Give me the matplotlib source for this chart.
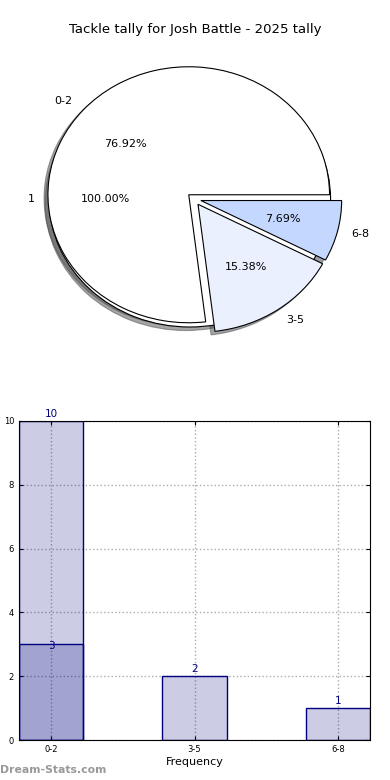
import numpy as np
import matplotlib
matplotlib.use("Agg")
import matplotlib.pyplot as plt

# Data
title = "Tackle tally for Josh Battle - 2025 tally"
tally_labels = ["0-2", "3-5", "6-8"]
tally_counts = [10, 2, 1]
tally_colors = ["#ffffff", "#eaf0fe", "#c4d8ff"]
other_labels = ["1"]
other_counts = [3]

fig = plt.figure(figsize=(3.9, 7.8), dpi=100)
fig.patch.set_facecolor("white")

fig.text(0.5, 1 - 30 / 780, title, ha="center", va="center", fontsize=9.5)

# Pie chart
ax1 = fig.add_axes([18 / 390, 421 / 780, 352 / 390, 320 / 780])
wp = {"edgecolor": "black", "linewidth": 0.8}
ax1.pie(other_counts, labels=other_labels, autopct="%.2f%%", startangle=0,
        explode=[0.03], shadow=True, colors=["white"], wedgeprops=wp,
        textprops={"fontsize": 8})
ax1.pie(tally_counts, labels=tally_labels, autopct="%.2f%%", startangle=0,
        explode=[0.05] * len(tally_counts), shadow=True, colors=tally_colors,
        wedgeprops=wp, textprops={"fontsize": 8})
ax1.set_aspect("auto")
ax1.set_xlim(-1.25, 1.25)
ax1.set_ylim(-1.25, 1.25)

# Bar chart
ax2 = fig.add_axes([19 / 390, 40 / 780, 351 / 390, 319 / 780])
x = np.arange(len(tally_labels))
width = 0.45
bars = ax2.bar(x, tally_counts, width, color=(0, 0, 0.5, 0.2),
               edgecolor="navy", linewidth=1, zorder=2)
bars2 = ax2.bar(np.arange(len(other_counts)), other_counts, width,
                color=(0, 0, 0.5, 0.2), edgecolor="navy", linewidth=1, zorder=2)
for group, dy in ((bars, 1.5), (bars2, -4.5)):
    for b in group:
        ax2.annotate(str(int(b.get_height())), (b.get_x() + b.get_width() / 2, b.get_height()),
                     xytext=(0, dy), textcoords="offset points", ha="center", va="bottom",
                     fontsize=7.5, color="navy", annotation_clip=False)

ax2.set_xlim(-width / 2, len(tally_labels) - 1 + width / 2)
ax2.set_ylim(0, max(tally_counts))
ax2.set_xticks(x)
ax2.set_xticklabels(tally_labels)
ax2.set_yticks(np.arange(0, 11, 2))
ax2.tick_params(labelsize=6, direction="in", top=True, right=True, length=3)
ax2.grid(True, linestyle=":", color="#aaaaaa", linewidth=1, zorder=0)
ax2.set_axisbelow(True)
ax2.set_xlabel("Frequency", fontsize=8, labelpad=2)
ax2.set_ylabel("Games In Tally", fontsize=8, labelpad=6)

fig.text(0.0, 10 / 780, "Dream-Stats.com", ha="left", va="center",
         fontsize=7.8, color="#999999", fontweight="bold")

fig.savefig("out.png", dpi=100, facecolor="white")
